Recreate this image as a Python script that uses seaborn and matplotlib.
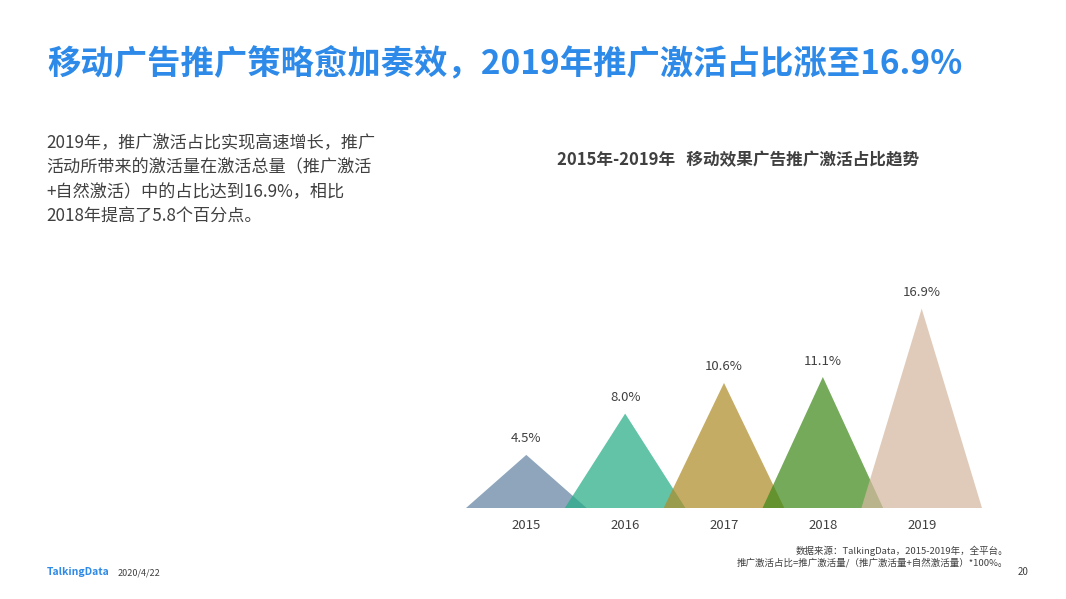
import numpy as np
import matplotlib
matplotlib.use("Agg")
import matplotlib.pyplot as plt
import seaborn as sns

# données
years = ["2015", "2016", "2017", "2018", "2019"]
share = [4.5, 8.0, 10.6, 11.1, 16.9]
colors = ["#6382A3", "#25AC86", "#AF8D29", "#3E891A", "#D5B8A0"]

title = "移动广告推广策略愈加奏效，2019年推广激活占比涨至16.9%"
chart_title = "2015年-2019年   移动效果广告推广激活占比趋势"
body_lines = [
    "2019年，推广激活占比实现高速增长，推广",
    "活动所带来的激活量在激活总量（推广激活",
    "+自然激活）中的占比达到16.9%，相比",
    "2018年提高了5.8个百分点。",
]
notes = [
    "数据来源：TalkingData，2015-2019年，全平台。",
    "推广激活占比=推广激活量/（推广激活量+自然激活量）*100%。",
]

sns.set_theme(style="white")
plt.rcParams['font.family'] = ['Noto Sans CJK SC', 'DejaVu Sans']

fig = plt.figure(figsize=(10.66, 5.99), dpi=100)
fig.patch.set_facecolor("white")

# titre principal
fig.text(47 / 1066, 1 - 64 / 599, title, fontsize=24, fontweight='bold',
         color='#2E8AE8', ha='left', va='center')

# texte de gauche
for k, line in enumerate(body_lines):
    fig.text(46 / 1066, 1 - (143 + k * 24.5) / 599, line, fontsize=12.3,
             color='#404040', ha='left', va='center')

# titre du graphique
fig.text(738 / 1066, 1 - 160 / 599, chart_title, fontsize=12, fontweight='bold',
         color='#404040', ha='center', va='center')

# graphique en triangles
ax = fig.add_axes([466 / 1066, 91 / 599, 516 / 1066, 236 / 599])
half = 0.61
for i, (v, c) in enumerate(zip(share, colors)):
    ax.fill([i - half, i, i + half], [0, v, 0], color=c, alpha=0.72, lw=0, zorder=2 + i)
    ax.annotate(f"{v:.1f}%", xy=(i, v), xytext=(0, 11.5), textcoords="offset points",
                ha='center', va='center', fontsize=9.5, color='#404040')

ax.set_xlim(-half, len(years) - 1 + half)
ax.set_ylim(0, 20)
ax.set_xticks(range(len(years)))
ax.set_xticklabels(years, fontsize=9.5, color='#404040')
ax.set_yticks([])
ax.tick_params(axis='x', length=0, pad=8)
sns.despine(ax=ax, left=True, bottom=True)
ax.set_facecolor("none")

# notes
for k, line in enumerate(notes):
    fig.text(1008 / 1066, 1 - (551 + k * 12) / 599, line, fontsize=6.8, style='italic',
             color='#404040', ha='right', va='center')

fig.text(1018 / 1066, 1 - 572 / 599, "20", fontsize=7, color='#404040', ha='left', va='center')
fig.text(47 / 1066, 1 - 572 / 599, "TalkingData", fontsize=7.5, fontweight='bold',
         color='#2E8AE8', ha='left', va='center')
fig.text(118 / 1066, 1 - 573 / 599, "2020/4/22", fontsize=6.5, color='#404040',
         ha='left', va='center')

plt.savefig("out.png", dpi=100)
